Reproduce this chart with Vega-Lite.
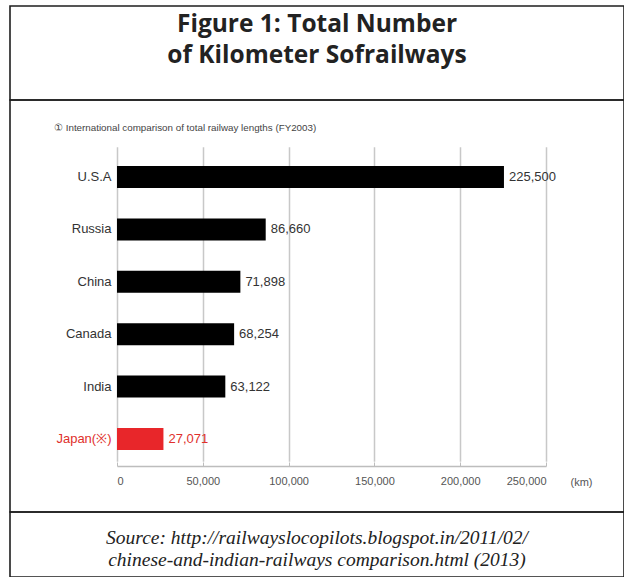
{
  "$schema": "https://vega.github.io/schema/vega-lite/v6.json",
  "padding": {"left": 9, "top": 5, "right": 0, "bottom": 0},
  "background": "white",
  "spacing": 0,
  "bounds": "flush",
  "config": {
    "view": {"stroke": "#1e1e1e", "strokeWidth": 1.6},
    "font": "Liberation Sans"
  },
  "vconcat": [
    {
      "width": 614,
      "height": 94,
      "data": {"values": [{"t": "Figure 1: Total Number\nof Kilometer Sofrailways"}]},
      "mark": {"type": "text", "font": "Open Sans", "fontWeight": "bold", "fontSize": 24.5, "lineBreak": "\n", "lineHeight": 31, "color": "#222", "dy": -28},
      "encoding": {
        "x": {"datum": "a", "type": "nominal", "axis": null},
        "y": {"datum": "a", "type": "nominal", "axis": null},
        "text": {"field": "t", "type": "nominal"}
      }
    },
    {
      "width": 614,
      "height": 412,
      "title": {
        "text": "① International comparison of total railway lengths (FY2003)",
        "anchor": "start",
        "frame": "group",
        "offset": -33,
        "dx": 44,
        "fontSize": 9.8,
        "font": "Liberation Sans",
        "fontWeight": "normal",
        "color": "#444"
      },
      "data": {
        "values": [
          {"country": "U.S.A", "km": 225500},
          {"country": "Russia", "km": 86660},
          {"country": "China", "km": 71898},
          {"country": "Canada", "km": 68254},
          {"country": "India", "km": 63122},
          {"country": "Japan(※)", "km": 27071}
        ]
      },
      "encoding": {
        "y": {
          "field": "country",
          "type": "nominal",
          "sort": null,
          "scale": {"range": [50.8, 365.2], "paddingInner": 0.58, "paddingOuter": 0.29},
          "axis": {
            "title": null,
            "orient": "left",
            "offset": -107,
            "domain": false,
            "ticks": false,
            "grid": false,
            "labelPadding": 6,
            "labelFont": "Liberation Sans",
            "labelFontSize": 13,
            "labelColor": {"condition": {"test": "datum.value === 'Japan(※)'", "value": "#e0302c"}, "value": "#333"}
          }
        },
        "x": {
          "field": "km",
          "type": "quantitative",
          "scale": {"domain": [0, 250000], "range": [107, 536], "nice": false, "zero": true},
          "axis": {
            "values": [0, 50000, 100000, 150000, 200000, 250000],
            "format": ",d",
            "offset": -46,
            "grid": true,
            "gridColor": "#c8c8c8",
            "gridWidth": 1.5,
            "domainColor": "#bdbdbd",
            "domainWidth": 1.5,
            "tickColor": "#bdbdbd",
            "tickSize": -4,
            "labelPadding": 13,
            "labelFont": "Liberation Sans",
            "labelFontSize": 11,
            "labelColor": "#555",
            "title": "(km)",
            "titleAngle": 0,
            "titleX": 571,
            "titleY": 16,
            "titleBaseline": "middle",
            "titleAlign": "center",
            "titleFont": "Liberation Sans",
            "titleFontSize": 11,
            "titleFontWeight": "normal",
            "titleColor": "#555"
          }
        }
      },
      "layer": [
        {
          "mark": {"type": "bar"},
          "encoding": {
            "color": {"condition": {"test": "datum.country === 'Japan(※)'", "value": "#e8262a"}, "value": "#000000"}
          }
        },
        {
          "mark": {"type": "text", "align": "left", "baseline": "middle", "dx": 5, "fontSize": 13, "font": "Liberation Sans"},
          "encoding": {
            "text": {"field": "km", "type": "quantitative", "format": ",d"},
            "color": {"condition": {"test": "datum.country === 'Japan(※)'", "value": "#e0302c"}, "value": "#333"}
          }
        }
      ]
    },
    {
      "width": 614,
      "height": 65,
      "data": {"values": [{"t": "Source: http://railwayslocopilots.blogspot.in/2011/02/\nchinese-and-indian-railways comparison.html  (2013)"}]},
      "mark": {"type": "text", "font": "Liberation Serif", "fontStyle": "italic", "fontSize": 19.5, "lineBreak": "\n", "lineHeight": 22, "color": "#222", "dy": -7},
      "encoding": {
        "x": {"datum": "a", "type": "nominal", "axis": null},
        "y": {"datum": "a", "type": "nominal", "axis": null},
        "text": {"field": "t", "type": "nominal"}
      }
    }
  ]
}
